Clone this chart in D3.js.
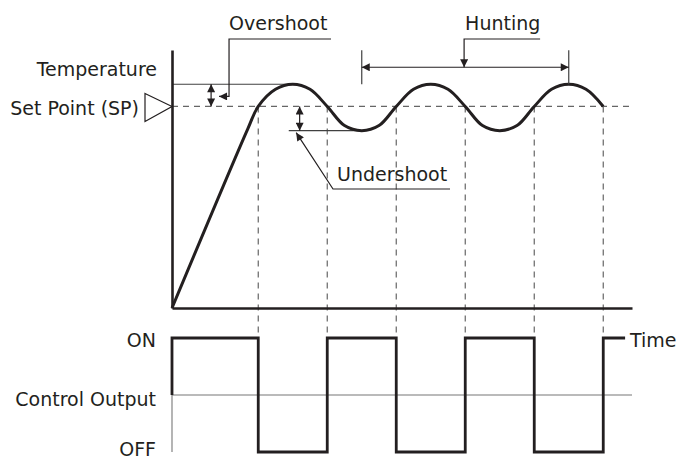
<!DOCTYPE html>
<html>
<head>
<meta charset="utf-8">
<script src="https://cdn.jsdelivr.net/npm/d3@7"></script>
<style>
    body { margin: 0; background: #fff; }
    svg text { font-family: "DejaVu Sans", Verdana, sans-serif; font-size: 19px; fill: #231f20; }
</style>
</head>
<body>
<svg id="chart"></svg>
<script>
// temperature response (time units / temperature units)
const tempTimes = [0, 3.3, 3.75, 4.5, 5.25, 6, 6.75, 7.5, 8.25, 9, 9.75, 10.5, 11.25, 12, 12.75, 13.5, 14.25, 15, 15.75, 16.5, 17.25, 18, 18.75];
const tempValues = [0, 89, 100, 108.5, 111, 108.5, 100, 90.5, 88, 90.5, 100, 108.5, 111, 108.5, 100, 90.5, 88, 90.5, 100, 108.5, 111, 108.5, 100];
const setPoint = 100;
const peakTemp = 111;
const lowTemp = 88;

// times where the temperature crosses the set point
const crossTimes = [3.75, 6.75, 9.75, 12.75, 15.75, 18.75];

// control output (step after each switch time)
const switchTimes = [0, 0, 3.75, 6.75, 9.75, 12.75, 15.75, 18.75, 19.7];
const outputStates = ["Control Output", "ON", "OFF", "ON", "OFF", "ON", "OFF", "ON", "ON"];
const outputLevels = ["ON", "Control Output", "OFF"];

const firstPeak = 5.25;
const huntStart = 8.25;
const huntEnd = 17.25;

class ControlChart {
    ink = "#231f20";
    thin = "#404040";

    constructor(svg, width = 676, height = 462) {
        this.svg = d3.select(svg);
        this.width = width;
        this.height = height;
    }

    initialize() {
        this.svg.attr("width", this.width).attr("height", this.height);

        this.x = d3.scaleLinear().domain([0, 20]).range([172, 632]);
        this.yT = d3.scaleLinear().domain([0, 128]).range([308, 50]);
        this.yOut = d3.scalePoint().domain(outputLevels).range([338, 452]);

        const defs = this.svg.append("defs");
        defs.append("marker")
            .attr("id", "head")
            .attr("viewBox", "0 0 10 10")
            .attr("refX", 10).attr("refY", 5)
            .attr("markerUnits", "userSpaceOnUse")
            .attr("markerWidth", 9).attr("markerHeight", 8)
            .attr("orient", "auto-start-reverse")
            .append("path")
            .attr("d", "M0,0 L10,5 L0,10 Z")
            .attr("fill", this.ink);

        this.guides = this.svg.append("g");
        this.marks = this.svg.append("g");
        this.notes = this.svg.append("g");
        this.labels = this.svg.append("g");
    }

    seg(g, x1, y1, x2, y2, color, w, dash) {
        return g.append("line")
            .attr("x1", x1).attr("y1", y1).attr("x2", x2).attr("y2", y2)
            .attr("stroke", color).attr("stroke-width", w)
            .attr("stroke-dasharray", dash || null);
    }

    draw() {
        const x = this.x, yT = this.yT, yOut = this.yOut;
        const ySP = yT(setPoint), yPeak = yT(peakTemp), yLow = yT(lowTemp);

        // dashed guides
        this.seg(this.guides, x(0), ySP, x(20), ySP, "#666", 1.2, "6,5");
        crossTimes.forEach(t => this.seg(this.guides, x(t), ySP, x(t), yOut("ON"), "#666", 1.2, "6,5"));

        // thin reference lines
        this.seg(this.guides, x(0), yPeak, x(firstPeak), yPeak, this.thin, 1.2);
        this.seg(this.guides, x(huntStart) - 73, yLow, x(huntStart), yLow, this.thin, 1.2);
        this.seg(this.guides, x(0), yOut("Control Output"), x(20), yOut("Control Output"), "#777", 1.1);
        this.seg(this.guides, x(0), yOut("Control Output"), x(0), yOut("OFF"), "#777", 1.1);

        // temperature curve
        const tempLine = d3.line()
            .x((d, i) => x(tempTimes[i]))
            .y(d => yT(d))
            .curve(d3.curveCatmullRom.alpha(0.5));
        this.marks.append("path")
            .attr("d", tempLine(tempValues))
            .attr("fill", "none").attr("stroke", this.ink).attr("stroke-width", 3);

        // control output
        const outLine = d3.line()
            .x((d, i) => x(switchTimes[i]))
            .y(d => yOut(d))
            .curve(d3.curveStepAfter);
        this.marks.append("path")
            .attr("d", outLine(outputStates))
            .attr("fill", "none").attr("stroke", this.ink).attr("stroke-width", 2.8);

        // axes
        this.xAxis = this.marks.append("g")
            .attr("transform", `translate(0, ${yT(0)})`)
            .call(d3.axisBottom(x).tickValues([]).tickSizeOuter(0));
        this.yAxis = this.marks.append("g")
            .attr("transform", `translate(${x(0)}, 0)`)
            .call(d3.axisLeft(yT).tickValues([]).tickSizeOuter(0));
        this.svg.selectAll(".domain").attr("stroke", this.ink).attr("stroke-width", 2.6);

        // set point marker
        const sx = x(0);
        this.marks.append("path")
            .attr("d", `M${sx - 27},${ySP - 13} L${sx},${ySP} L${sx - 27},${ySP + 15} Z`)
            .attr("fill", "#fff").attr("stroke", this.ink).attr("stroke-width", 1.2);

        // overshoot
        const ox = x(1.7);
        this.seg(this.notes, ox, yPeak, ox, ySP, this.ink, 1.2)
            .attr("marker-start", "url(#head)").attr("marker-end", "url(#head)");
        const lx = x(2.48);
        this.notes.append("path")
            .attr("d", `M${lx + 102},39 H${lx} V${ySP - 10} H${lx - 10}`)
            .attr("fill", "none").attr("stroke", this.ink).attr("stroke-width", 1.2)
            .attr("marker-end", "url(#head)");

        // undershoot
        const ux = x(5.55);
        this.seg(this.notes, ux, ySP, ux, yLow, this.ink, 1.2)
            .attr("marker-start", "url(#head)").attr("marker-end", "url(#head)");
        this.notes.append("path")
            .attr("d", `M450,189 H333 L${x(5.4)},${yLow + 2}`)
            .attr("fill", "none").attr("stroke", this.ink).attr("stroke-width", 1.2)
            .attr("marker-end", "url(#head)");

        // hunting
        const hy = yPeak - 17;
        this.seg(this.notes, x(huntStart), yPeak - 34, x(huntStart), yPeak, this.thin, 1.2);
        this.seg(this.notes, x(huntEnd), yPeak - 34, x(huntEnd), yPeak, this.thin, 1.2);
        this.seg(this.notes, x(huntStart), hy, x(huntEnd), hy, this.ink, 1.2)
            .attr("marker-start", "url(#head)").attr("marker-end", "url(#head)");
        const hx = x(12.7);
        this.notes.append("path")
            .attr("d", `M${hx + 76},39 H${hx} V${hy}`)
            .attr("fill", "none").attr("stroke", this.ink).attr("stroke-width", 1.2)
            .attr("marker-end", "url(#head)");

        // labels
        const text = (s, tx, ty, anchor) => this.labels.append("text")
            .attr("x", tx).attr("y", ty).attr("text-anchor", anchor).text(s);
        text("Temperature", 157, 76, "end");
        text("Set Point (SP)", 139, 115, "end");
        text("Overshoot", lx, 30, "start");
        text("Hunting", hx + 1, 30, "start");
        text("Undershoot", 337, 181, "start");
        text("ON", 156, yOut("ON") + 9, "end");
        text("Control Output", 156, yOut("Control Output") + 11, "end");
        text("OFF", 156, 456, "end");
        text("Time", 630, yOut("ON") + 9, "start");
    }
}

const chart = new ControlChart("#chart");
chart.initialize();
chart.draw();
</script>
</body>
</html>
